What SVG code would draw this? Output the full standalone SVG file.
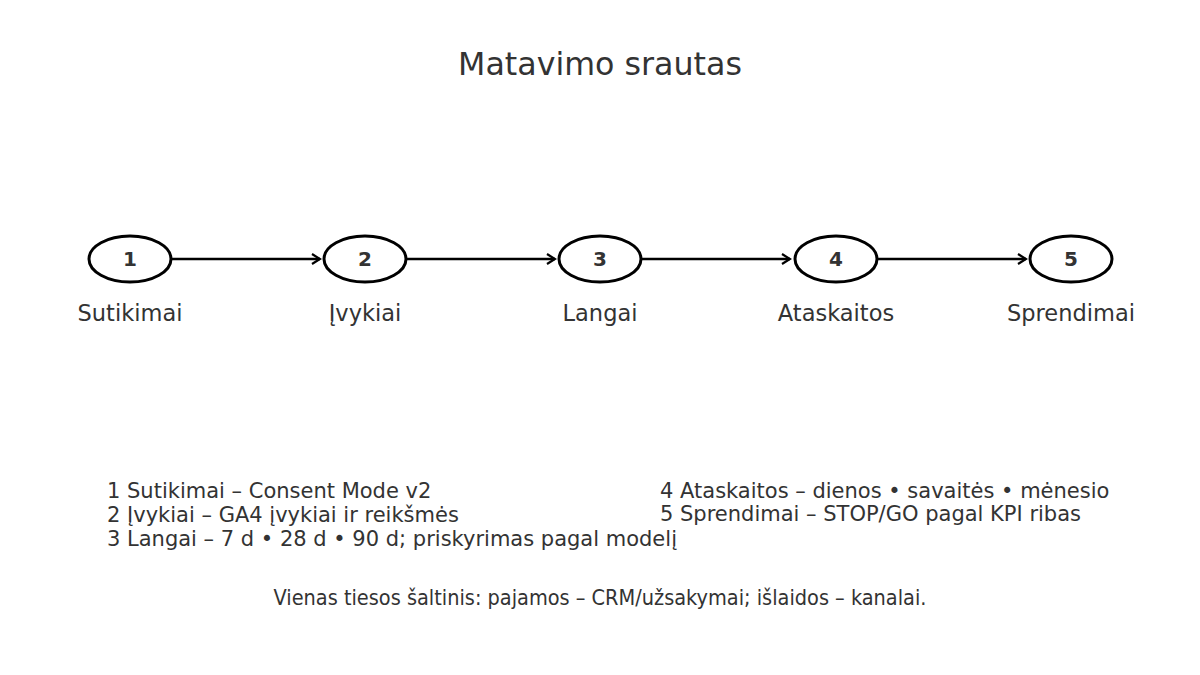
<svg xmlns="http://www.w3.org/2000/svg" width="1200" height="675" viewBox="0 0 1200 675">
<style>
text{font-family:"DejaVu Sans",sans-serif;fill:#333}
.title{font-size:31.7px}
.num{font-size:20px;font-weight:bold;text-anchor:middle}
.lbl{font-size:22.5px;text-anchor:middle}
.leg{font-size:21px}
.foot{font-family:"DejaVu Sans Condensed","DejaVu Sans",sans-serif;font-size:21.5px;text-anchor:middle}
.node ellipse{fill:#fff;stroke:#000;stroke-width:3}
.edge{stroke:#000;stroke-width:2.5;fill:none;marker-end:url(#ah)}
</style>
<defs>
<marker id="ah" viewBox="0 0 12 12" refX="10" refY="6" markerWidth="12" markerHeight="12" markerUnits="userSpaceOnUse" orient="auto">
<path d="M2,1 L10,6 L2,11" fill="none" stroke="#000" stroke-width="2.2"/>
</marker>
</defs>
<rect width="1200" height="675" fill="#fff"/>
<text class="title" x="600" y="75" text-anchor="middle">Matavimo srautas</text>
<g id="connectors">
<line class="edge" x1="172" y1="259" x2="320" y2="259"/>
<line class="edge" x1="407" y1="259" x2="555" y2="259"/>
<line class="edge" x1="642" y1="259" x2="790" y2="259"/>
<line class="edge" x1="878" y1="259" x2="1026" y2="259"/>
</g>
<g id="n1" class="node"><ellipse cx="130" cy="259" rx="41" ry="23"/><text class="num" x="130" y="266">1</text><text class="lbl" x="130" y="321">Sutikimai</text></g>
<g id="n2" class="node"><ellipse cx="365" cy="259" rx="41" ry="23"/><text class="num" x="365" y="266">2</text><text class="lbl" x="365" y="321">Įvykiai</text></g>
<g id="n3" class="node"><ellipse cx="600" cy="259" rx="41" ry="23"/><text class="num" x="600" y="266">3</text><text class="lbl" x="600" y="321">Langai</text></g>
<g id="n4" class="node"><ellipse cx="836" cy="259" rx="41" ry="23"/><text class="num" x="836" y="266">4</text><text class="lbl" x="836" y="321">Ataskaitos</text></g>
<g id="n5" class="node"><ellipse cx="1071" cy="259" rx="41" ry="23"/><text class="num" x="1071" y="266">5</text><text class="lbl" x="1071" y="321">Sprendimai</text></g>
<g id="legend">
<text class="leg" x="107" y="498">1 Sutikimai – Consent Mode v2</text>
<text class="leg" x="107" y="522">2 Įvykiai – GA4 įvykiai ir reikšmės</text>
<text class="leg" x="107" y="546">3 Langai – 7 d • 28 d • 90 d; priskyrimas pagal modelį</text>
<text class="leg" x="660" y="498">4 Ataskaitos – dienos • savaitės • mėnesio</text>
<text class="leg" x="660" y="521">5 Sprendimai – STOP/GO pagal KPI ribas</text>
</g>
<text class="foot" x="600" y="605">Vienas tiesos šaltinis: pajamos – CRM/užsakymai; išlaidos – kanalai.</text>
</svg>
